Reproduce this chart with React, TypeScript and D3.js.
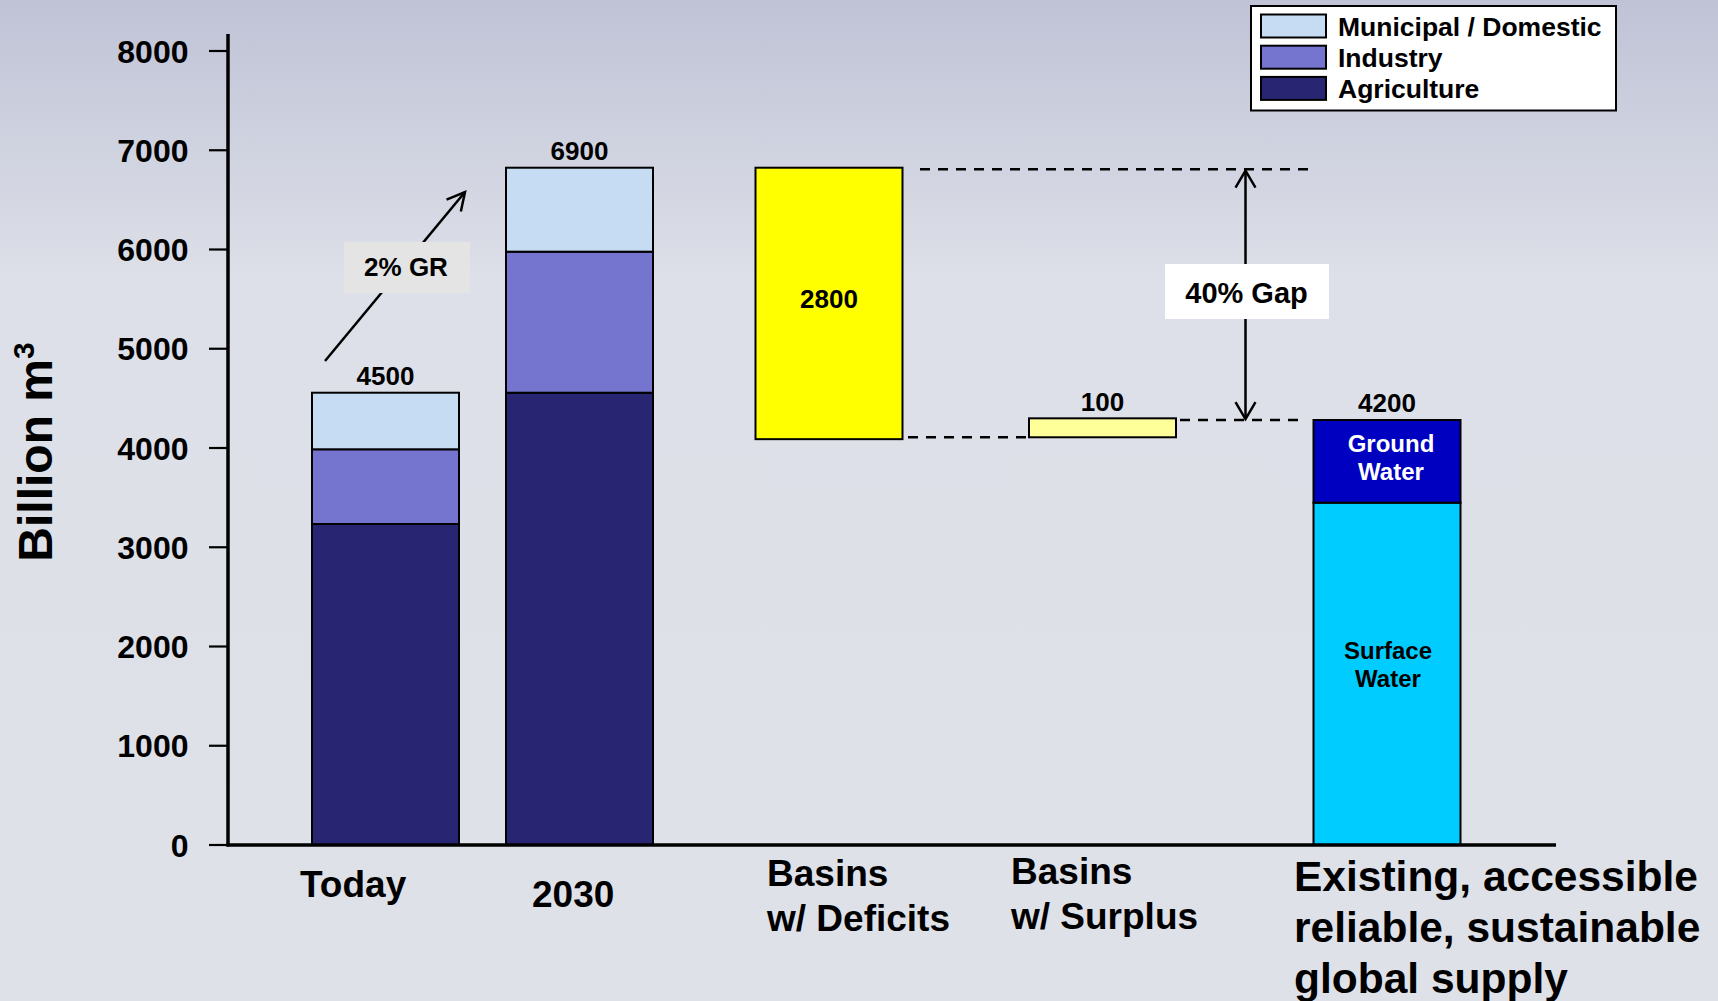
import React from "react";
import * as d3 from "d3";

// ---------- data ----------
const categories = ["Today", "2030", "Deficits", "Surplus", "Supply"];
const demandCategories = ["Today", "2030"];
const agriculture = [3234, 4557];
const industry = [753, 1421];
const municipal = [570, 846];
const demandTotals = ["4500", "6900"];

const deficitBase = 4089;
const deficitValue = 2735;
const deficitLabel = "2800";
const surplusBase = 4108;
const surplusValue = 191;
const surplusLabel = "100";
const surfaceWater = 3449;
const groundWater = 833;
const supplyLabel = "4200";

const yTicks = [0, 1000, 2000, 3000, 4000, 5000, 6000, 7000, 8000];
const legendLabels = ["Municipal / Domestic", "Industry", "Agriculture"];
const categoryLabels = [
  ["Today"],
  ["2030"],
  ["Basins", "w/ Deficits"],
  ["Basins", "w/ Surplus"],
  ["Existing, accessible", "reliable, sustainable", "global supply"],
];

// ---------- styling ----------
const FONT = "'Liberation Sans', Arial, Helvetica, sans-serif";
const C_MUNI = "#c5dcf2";
const C_IND = "#7574cf";
const C_AGRI = "#282672";
const C_DEF = "#ffff00";
const C_SUR = "#ffff99";
const C_GROUND = "#0000c0";
const C_SURFACE = "#00ccff";

const W = 1718;
const H = 1001;

export default function App() {
  const y = d3.scaleLinear().domain([0, 8000]).range([845, 51]);
  const axisLeft = 228;
  const axisRight = 1556;
  const barW = 147;
  // irregular slot placement of the categories along the x axis
  const x = d3
    .scaleOrdinal<string, number>()
    .domain(categories)
    .range([312, 506, 755.5, 1029, 1313.5]);

  const stackData = demandCategories.map((c, i) => ({
    cat: c,
    agriculture: agriculture[i],
    industry: industry[i],
    municipal: municipal[i],
  }));
  const stack = d3.stack<any>().keys(["agriculture", "industry", "municipal"]);
  const series = stack(stackData);
  const colorOf: Record<string, string> = {
    agriculture: C_AGRI,
    industry: C_IND,
    municipal: C_MUNI,
  };

  const lineBold = { fontFamily: FONT, fontWeight: 700 as const };

  const defTop = y(deficitBase + deficitValue);
  const defBot = y(deficitBase);
  const supTop = y(surfaceWater + groundWater);
  const surTop = y(surplusBase + surplusValue);
  const surBot = y(surplusBase);
  const gapX = 1245.5;

  // 2% GR arrow
  const grStart: [number, number] = [325, 361];
  const grEnd: [number, number] = [465, 192];
  const ang = Math.atan2(grEnd[1] - grStart[1], grEnd[0] - grStart[0]);
  const headLen = 20;
  const headAng = Math.PI / 6.5;
  const barb = (s: number): [number, number] => [
    grEnd[0] - headLen * Math.cos(ang + s * headAng),
    grEnd[1] - headLen * Math.sin(ang + s * headAng),
  ];
  const b1 = barb(1);
  const b2 = barb(-1);

  const supCx = (x("Supply") as number) + barW / 2;

  return (
    <svg
      width={W}
      height={H}
      style={{ position: "absolute", left: 0, top: 0, display: "block" }}
    >
      <defs>
        <linearGradient id="bg" x1="0" y1="0" x2="0" y2="1">
          <stop offset="0" stopColor="#c0c3d6" />
          <stop offset="0.28" stopColor="#dde0e8" />
          <stop offset="1" stopColor="#dfe1e8" />
        </linearGradient>
      </defs>
      <rect x={0} y={0} width={W} height={H} fill="url(#bg)" />

      {/* y axis label */}
      <text
        transform={`translate(52, 452) rotate(-90)`}
        textAnchor="middle"
        fontSize={48}
        {...lineBold}
        fill="#000"
      >
        Billion m
        <tspan fontSize={30} dy={-18}>
          3
        </tspan>
      </text>

      {/* y ticks */}
      {yTicks.map((t) => (
        <g key={t}>
          <line
            x1={209}
            x2={axisLeft}
            y1={y(t)}
            y2={y(t)}
            stroke="#000"
            strokeWidth={2.2}
          />
          <text
            x={188.5}
            y={y(t)}
            dy="0.36em"
            textAnchor="end"
            fontSize={32}
            {...lineBold}
            fill="#000"
          >
            {t}
          </text>
        </g>
      ))}

      {/* stacked demand bars */}
      {series.map((s) =>
        s.map((d, i) => (
          <rect
            key={s.key + i}
            x={x(demandCategories[i])}
            y={y(d[1])}
            width={barW}
            height={y(d[0]) - y(d[1])}
            fill={colorOf[s.key]}
            stroke="#000"
            strokeWidth={2}
          />
        ))
      )}
      {demandCategories.map((c, i) => (
        <text
          key={c}
          x={(x(c) as number) + barW / 2}
          y={y(agriculture[i] + industry[i] + municipal[i]) - 8}
          textAnchor="middle"
          fontSize={26}
          {...lineBold}
        >
          {demandTotals[i]}
        </text>
      ))}

      {/* deficit bar */}
      <rect
        x={x("Deficits")}
        y={defTop}
        width={barW}
        height={defBot - defTop}
        fill={C_DEF}
        stroke="#000"
        strokeWidth={2}
      />
      <text
        x={(x("Deficits") as number) + barW / 2}
        y={(defTop + defBot) / 2 + 5}
        textAnchor="middle"
        fontSize={26}
        {...lineBold}
      >
        {deficitLabel}
      </text>

      {/* surplus bar */}
      <rect
        x={x("Surplus")}
        y={surTop}
        width={barW}
        height={surBot - surTop}
        fill={C_SUR}
        stroke="#000"
        strokeWidth={2}
      />
      <text
        x={(x("Surplus") as number) + barW / 2}
        y={surTop - 7}
        textAnchor="middle"
        fontSize={26}
        {...lineBold}
      >
        {surplusLabel}
      </text>

      {/* supply bar */}
      <rect
        x={x("Supply")}
        y={y(surfaceWater)}
        width={barW}
        height={y(0) - y(surfaceWater)}
        fill={C_SURFACE}
        stroke="#000"
        strokeWidth={2}
      />
      <rect
        x={x("Supply")}
        y={supTop}
        width={barW}
        height={y(surfaceWater) - supTop}
        fill={C_GROUND}
        stroke="#000"
        strokeWidth={2}
      />
      <text
        x={supCx}
        y={supTop - 8}
        textAnchor="middle"
        fontSize={26}
        {...lineBold}
      >
        {supplyLabel}
      </text>
      <text y={452} textAnchor="middle" fontSize={24} {...lineBold} fill="#fff">
        <tspan x={supCx + 4}>Ground</tspan>
        <tspan x={supCx + 4} dy={27.5}>
          Water
        </tspan>
      </text>
      <text y={659} textAnchor="middle" fontSize={24} {...lineBold} fill="#000">
        <tspan x={supCx + 1}>Surface</tspan>
        <tspan x={supCx + 1} dy={28}>
          Water
        </tspan>
      </text>

      {/* dashed guides */}
      <g stroke="#000" strokeWidth={2.5} strokeDasharray="10 8" fill="none">
        <line x1={920} x2={1313} y1={defTop + 1.5} y2={defTop + 1.5} />
        <line x1={908} x2={1027} y1={surBot} y2={surBot} />
        <line x1={1180} x2={1306} y1={supTop} y2={supTop} />
      </g>

      {/* gap arrow */}
      <g stroke="#000" strokeWidth={2.5} fill="none">
        <line x1={gapX} x2={gapX} y1={defTop + 3} y2={supTop - 1} />
        <polyline
          points={`${gapX - 10},${defTop + 20} ${gapX},${defTop + 3} ${gapX + 10},${defTop + 20}`}
        />
        <polyline
          points={`${gapX - 10},${supTop - 18} ${gapX},${supTop - 1} ${gapX + 10},${supTop - 18}`}
        />
      </g>
      <rect x={1165} y={264} width={164} height={55} fill="#fff" />
      <text
        x={1246.5}
        y={302.5}
        textAnchor="middle"
        fontSize={29}
        {...lineBold}
      >
        40% Gap
      </text>

      {/* 2% GR arrow */}
      <g stroke="#000" strokeWidth={2.5} fill="none">
        <line x1={grStart[0]} y1={grStart[1]} x2={grEnd[0]} y2={grEnd[1]} />
        <polyline
          points={`${b1[0]},${b1[1]} ${grEnd[0]},${grEnd[1]} ${b2[0]},${b2[1]}`}
        />
      </g>
      <rect x={344} y={242} width={126} height={51} fill="#e4e4e4" />
      <text x={406} y={276} textAnchor="middle" fontSize={26} {...lineBold}>
        2% GR
      </text>

      {/* axes */}
      <line
        x1={axisLeft}
        x2={axisLeft}
        y1={34}
        y2={y(0) + 1.5}
        stroke="#000"
        strokeWidth={3.5}
      />
      <line
        x1={axisLeft - 1.5}
        x2={axisRight}
        y1={y(0)}
        y2={y(0)}
        stroke="#000"
        strokeWidth={3.5}
      />

      {/* category labels */}
      <text x={300} y={897} fontSize={37} {...lineBold}>
        {categoryLabels[0][0]}
      </text>
      <text x={532} y={907} fontSize={37} {...lineBold}>
        {categoryLabels[1][0]}
      </text>
      <text fontSize={37} {...lineBold}>
        {categoryLabels[2].map((l, i) => (
          <tspan key={l} x={767} y={886 + i * 45}>
            {l}
          </tspan>
        ))}
      </text>
      <text fontSize={37} {...lineBold}>
        {categoryLabels[3].map((l, i) => (
          <tspan key={l} x={1011} y={884 + i * 45}>
            {l}
          </tspan>
        ))}
      </text>
      <text fontSize={42.5} {...lineBold}>
        {categoryLabels[4].map((l, i) => (
          <tspan key={l} x={1294} y={891 + i * 51}>
            {l}
          </tspan>
        ))}
      </text>

      {/* legend */}
      <rect
        x={1251}
        y={6}
        width={365}
        height={104.5}
        fill="#fff"
        stroke="#000"
        strokeWidth={2}
      />
      {[C_MUNI, C_IND, C_AGRI].map((c, i) => (
        <g key={c}>
          <rect
            x={1261}
            y={14.5 + i * 31.2}
            width={65}
            height={23}
            fill={c}
            stroke="#000"
            strokeWidth={2}
          />
          <text x={1338} y={35.5 + i * 31} fontSize={26.5} {...lineBold}>
            {legendLabels[i]}
          </text>
        </g>
      ))}
    </svg>
  );
}
